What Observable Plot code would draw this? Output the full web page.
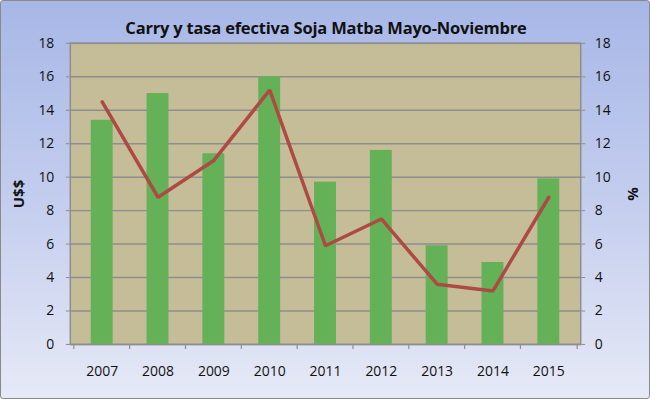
<!DOCTYPE html>
<html>
<head>
<meta charset="utf-8">
<script src="https://cdn.jsdelivr.net/npm/d3@7"></script>
<script src="https://cdn.jsdelivr.net/npm/@observablehq/plot@0.6"></script>
<style>
  html, body { margin: 0; padding: 0; background: #fff; }
  #wrap {
    position: relative; width: 650px; height: 399px; box-sizing: border-box;
    border: 1.5px solid #8a8a8a; border-radius: 3px;
    background: linear-gradient(to bottom, #a7b7e6 0%, #c3cdee 50%, #e6e9f6 100%);
    font-family: "Open Sans", sans-serif; overflow: hidden;
  }
  #title {
    position: absolute; left: 0; top: 15px; width: 650px; text-align: center;
    font-weight: bold; font-size: 16.5px; color: #111; letter-spacing: -0.2px;
  }
  #ylab, #y2lab {
    position: absolute; font-weight: bold; font-size: 15px; color: #111;
    white-space: nowrap; transform-origin: center center;
  }
  #chart { position: absolute; left: 0; top: 0; }
</style>
</head>
<body>
<div id="wrap">
  <div id="chart"></div>
  <div id="title">Carry y tasa efectiva Soja Matba Mayo-Noviembre</div>
  <div id="ylab">U$$</div>
  <div id="y2lab">%</div>
</div>
<script>
const years = ["2007","2008","2009","2010","2011","2012","2013","2014","2015"];
const carry = [13.4, 15.0, 11.4, 16.0, 9.7, 11.6, 5.9, 4.9, 9.9];
const tasa = [14.5, 8.8, 11.0, 15.2, 5.9, 7.5, 3.6, 3.2, 8.8];
const yTicks = [0, 2, 4, 6, 8, 10, 12, 14, 16, 18];

const data = years.map((y, i) => ({year: y, carry: carry[i], tasa: tasa[i]}));

const W = 650, H = 399, mL = 69, mR = 69, mT = 42, mB = 55;
const step = (W - mL - mR) / years.length;

const chart = Plot.plot({
  width: W, height: H,
  marginLeft: mL, marginRight: mR, marginTop: mT, marginBottom: mB,
  style: {background: "transparent", fontFamily: "Open Sans, sans-serif", fontSize: "14px", color: "#111"},
  x: {domain: years, paddingInner: 0.6, paddingOuter: 0.3, label: null},
  y: {domain: [0, 18], label: null},
  marks: [
    Plot.frame({fill: "#c5bd98", stroke: "#8e8e8e", strokeWidth: 1.5}),
    Plot.ruleY(yTicks, {stroke: "#8e8e8e", strokeWidth: 1.5}),
    Plot.barY(data, {x: "year", y: "carry", fill: "#65b157"}),
    Plot.axisY(yTicks, {anchor: "left", tickSize: 4, tickPadding: 12, stroke: "#8e8e8e", fontSize: 14, fill: "#111", label: null}),
    Plot.axisY(yTicks, {anchor: "right", tickSize: 4, tickPadding: 10, stroke: "#8e8e8e", fontSize: 14, fill: "#111", label: null}),
    Plot.axisX({tickSize: 0, tickPadding: 22, fontSize: 14, fill: "#111", label: null}),
    Plot.ruleX(years, {y1: 0, y2: -0.3, dx: -step / 2, stroke: "#8e8e8e", strokeWidth: 1.2}),
    Plot.ruleX(years.slice(-1), {y1: 0, y2: -0.3, dx: step / 2, stroke: "#8e8e8e", strokeWidth: 1.2}),
    Plot.line(data, {x: "year", y: "tasa", stroke: "#ad4a43", strokeWidth: 3.5, strokeLinejoin: "miter"})
  ]
});
document.getElementById("chart").appendChild(chart);

const yl = document.getElementById("ylab");
const r = yl.getBoundingClientRect();
yl.style.left = (17 - r.width / 2) + "px";
yl.style.top = (193 - r.height / 2) + "px";
yl.style.transform = "rotate(-90deg)";
const y2 = document.getElementById("y2lab");
const r2 = y2.getBoundingClientRect();
y2.style.left = (633 - r2.width / 2) + "px";
y2.style.top = (193 - r2.height / 2) + "px";
y2.style.transform = "rotate(90deg)";
</script>
</body>
</html>
